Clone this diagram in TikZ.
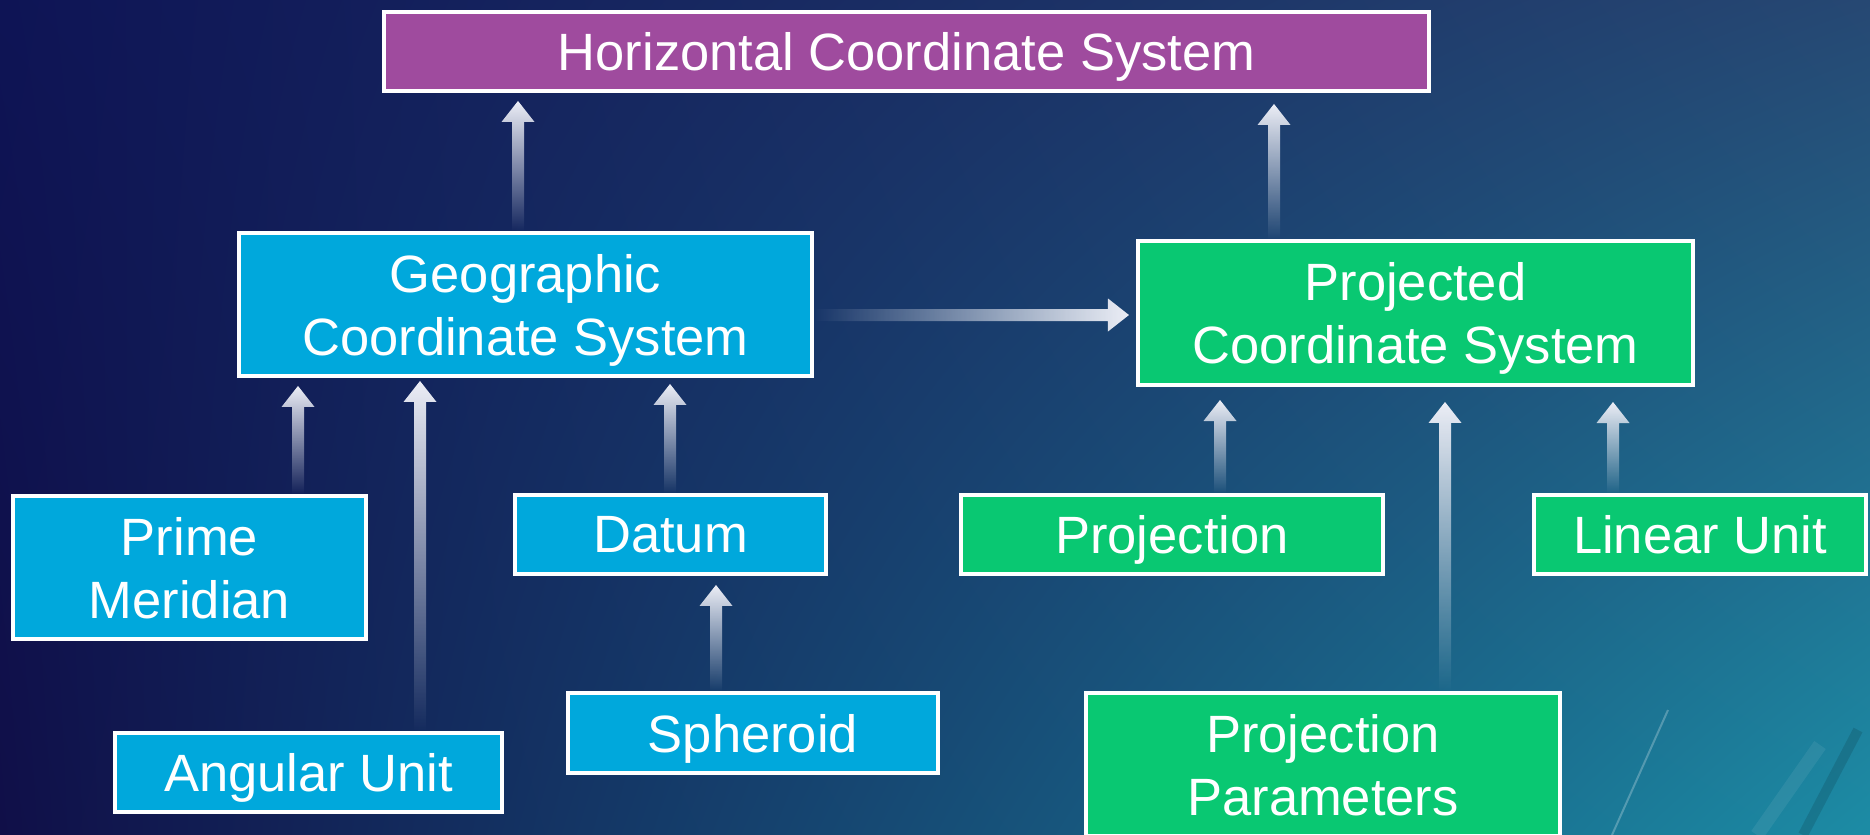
\documentclass[tikz,border=0pt]{standalone}
\usepackage{fontspec}
\setmainfont{Liberation Sans}
\usetikzlibrary{fadings,calc,shadings}
\definecolor{bgUL}{RGB}{14,20,85}
\definecolor{bgUR}{RGB}{38,72,115}
\definecolor{bgLL}{RGB}{16,15,72}
\definecolor{bgLR}{RGB}{28,140,165}
\definecolor{hcsfill}{HTML}{9F4B9E}
\definecolor{gcsfill}{HTML}{00A8DC}
\definecolor{pcsfill}{HTML}{09C872}
\definecolor{arrowcol}{RGB}{236,238,246}
\tikzfading[name=fadeup, bottom color=transparent!100, top color=transparent!0]
\tikzfading[name=faderight, left color=transparent!100, right color=transparent!0]
\newcommand\uparrowfade[2]{\fill[arrowcol, path fading=fadeup] let \p1=#1, \p2=#2 in
  (\x1-3pt,\y1) -- (\x1-3pt,\y2-10.5pt) -- (\x1-8.25pt,\y2-10.5pt) -- (\x1,\y2)
  -- (\x1+8.25pt,\y2-10.5pt) -- (\x1+3pt,\y2-10.5pt) -- (\x1+3pt,\y1) -- cycle;}
\newcommand\rightarrowfade[2]{\fill[arrowcol, path fading=faderight] let \p1=#1, \p2=#2 in
  (\x1,\y1+3pt) -- (\x2-10.5pt,\y1+3pt) -- (\x2-10.5pt,\y1+8.25pt) -- (\x2,\y1)
  -- (\x2-10.5pt,\y1-8.25pt) -- (\x2-10.5pt,\y1-3pt) -- (\x1,\y1-3pt) -- cycle;}
\begin{document}
\begin{tikzpicture}[x=0.5pt,y=-0.5pt,
  box/.style={draw=white, line width=2pt, text=white, align=center, inner sep=0pt,
    font=\fontsize{26.25}{31.5}\selectfont, text depth=0pt},
  purplebox/.style={box, fill=hcsfill},
  bluebox/.style={box, fill=gcsfill},
  greenbox/.style={box, fill=pcsfill}]
\useasboundingbox (0,0) rectangle (1870,835);
\clip (0,0) rectangle (1870,835);
\shade[upper left=bgUL, upper right=bgUR, lower left=bgLL, lower right=bgLR] (0,0) rectangle (1870,835);
% decorative streaks
\draw[white, opacity=0.25, line width=1pt] (1668,710) -- (1612,835);
\draw[white, opacity=0.07, line width=7pt] (1820,745) -- (1757,835);
\draw[black, opacity=0.12, line width=5pt] (1858,730) -- (1803,835);

\node[purplebox, minimum width=522.5pt, minimum height=39.5pt] (hcs) at (906.5,51.5) {Horizontal Coordinate System};
\node[bluebox, minimum width=286.5pt, minimum height=71.5pt] (gcs) at (525.5,304.5) {Geographic\\Coordinate System};
\node[greenbox, minimum width=277.5pt, minimum height=72pt] (pcs) at (1415.5,313) {Projected\\Coordinate System};
\node[bluebox, minimum width=176.5pt, minimum height=71.5pt] (pm) at (189.5,567.5) {Prime\\Meridian};
\node[bluebox, minimum width=193.5pt, minimum height=39.5pt] (au) at (308.5,772.5) {Angular Unit};
\node[bluebox, minimum width=155.5pt, minimum height=39.5pt] (dat) at (670.5,534.5) {Datum};
\node[bluebox, minimum width=185pt, minimum height=40pt] (sph) at (753,733) {Spheroid};
\node[greenbox, minimum width=211pt, minimum height=39.5pt] (prj) at (1172,534.5) {Projection};
\node[greenbox, minimum width=166pt, minimum height=39.5pt] (lu) at (1700,534.5) {Linear Unit};
\node[greenbox, minimum width=237pt, minimum height=71.5pt] (pp) at (1323,764.5) {Projection\\Parameters};

\uparrowfade{(gcs.north -| 518,0)}{([yshift=-4pt]hcs.south -| 518,0)}
\uparrowfade{(pcs.north -| 1274,0)}{([yshift=-5.5pt]hcs.south -| 1274,0)}
\uparrowfade{(pm.north -| 298,0)}{([yshift=-4pt]gcs.south -| 298,0)}
\uparrowfade{(au.north -| 420,0)}{([yshift=-1.5pt]gcs.south -| 420,0)}
\uparrowfade{(dat.north -| 670,0)}{([yshift=-3pt]gcs.south -| 670,0)}
\uparrowfade{(sph.north -| 716,0)}{([yshift=-4.5pt]dat.south -| 716,0)}
\uparrowfade{(prj.north -| 1220,0)}{([yshift=-6.5pt]pcs.south -| 1220,0)}
\uparrowfade{(pp.north -| 1445,0)}{([yshift=-7.5pt]pcs.south -| 1445,0)}
\uparrowfade{(lu.north -| 1613,0)}{([yshift=-7.5pt]pcs.south -| 1613,0)}
\rightarrowfade{(gcs.east |- 0,315)}{([xshift=-3.5pt]pcs.west |- 0,315)}
\end{tikzpicture}
\end{document}
